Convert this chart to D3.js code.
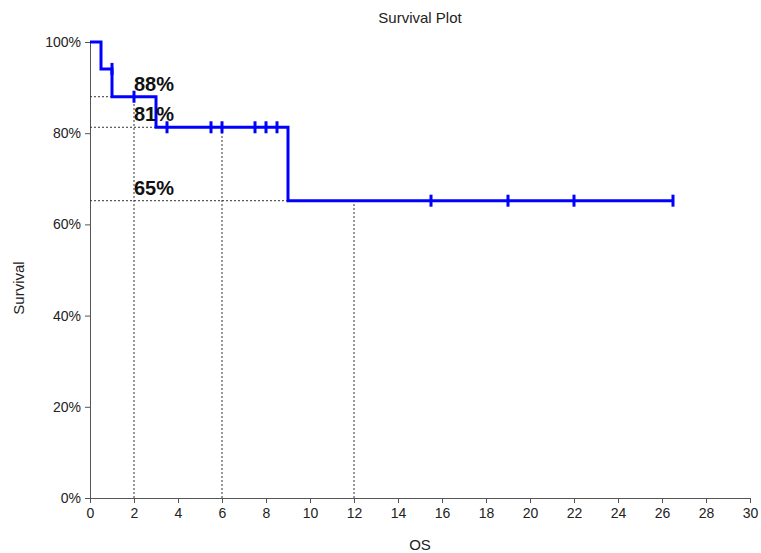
<!DOCTYPE html>
<html>
<head>
<meta charset="utf-8">
<script src="https://cdn.jsdelivr.net/npm/d3@7"></script>
<style>
  html, body { margin: 0; padding: 0; background: #fff; }
  svg { display: block; font-family: "Liberation Sans", Arial, sans-serif; }
</style>
</head>
<body>
<svg id="chart" width="761" height="553"></svg>
<script>
// ---- data ----
const stepTimes = [0, 0.5, 1.0, 3.0, 9.0];
const stepSurv  = [1.0, 0.941, 0.88, 0.813, 0.652];
const endTime = 26.5;
const censorTimes = [1.0, 2.0, 3.5, 5.5, 6.0, 7.5, 8.0, 8.5, 15.5, 19.0, 22.0, 26.5];
const refTimes  = [2, 6, 12];
const refSurv   = [0.88, 0.813, 0.652];
const refLabels = ["88%", "81%", "65%"];
const labelTimes = [2, 2, 2];
const xTicks = [0, 2, 4, 6, 8, 10, 12, 14, 16, 18, 20, 22, 24, 26, 28, 30];
const yTicks = [0, 0.2, 0.4, 0.6, 0.8, 1.0];

const svg = d3.select("#chart");
const x = d3.scaleLinear().domain([0, 30]).range([90, 750]);
const y = d3.scaleLinear().domain([0, 1]).range([498, 42]);

// title
svg.append("text").attr("x", 420).attr("y", 23).attr("text-anchor", "middle")
  .attr("font-size", 15).attr("fill", "#222").text("Survival Plot");

// axes
const xAxis = svg.append("g").attr("transform", `translate(0,${y(0)})`)
  .call(d3.axisBottom(x).tickValues(xTicks).tickSize(5).tickSizeOuter(0).tickPadding(5).tickFormat(d3.format("d")));
const yAxis = svg.append("g").attr("transform", `translate(${x(0)},0)`)
  .call(d3.axisLeft(y).tickValues(yTicks).tickSize(5).tickSizeOuter(0).tickPadding(4).tickFormat(d3.format(".0%")));
[xAxis, yAxis].forEach(g => {
  g.selectAll("path,line").attr("stroke", "#555");
  g.selectAll("text").attr("font-size", 14).attr("fill", "#222")
    .attr("font-family", "'Liberation Sans', Arial, sans-serif");
});

// axis titles
svg.append("text").attr("x", 420).attr("y", 550).attr("text-anchor", "middle")
  .attr("font-size", 15).attr("fill", "#222").text("OS");
svg.append("text").attr("transform", "translate(24,288) rotate(-90)").attr("text-anchor", "middle")
  .attr("font-size", 15).attr("fill", "#222").text("Survival");

// reference dotted lines
const ref = svg.append("g");
refTimes.forEach((t, i) => {
  ref.append("line").attr("x1", x(0)).attr("x2", x(t)).attr("y1", y(refSurv[i])).attr("y2", y(refSurv[i]))
    .attr("stroke", "#333").attr("stroke-width", 1).attr("stroke-dasharray", "2,2");
  ref.append("line").attr("x1", x(t)).attr("x2", x(t)).attr("y1", y(0)).attr("y2", y(refSurv[i]))
    .attr("stroke", "#333").attr("stroke-width", 1).attr("stroke-dasharray", "2,2");
});

// survival step curve
const pts = stepTimes.map((t, i) => [t, stepSurv[i]]);
pts.push([endTime, stepSurv[stepSurv.length - 1]]);
const line = d3.line().x(d => x(d[0])).y(d => y(d[1])).curve(d3.curveStepAfter);
svg.append("path").datum(pts).attr("d", line).attr("fill", "none")
  .attr("stroke", "#0000ff").attr("stroke-width", 3);

// censor marks
function survBefore(t) {
  let s = stepSurv[0];
  stepTimes.forEach((st, i) => { if (st < t) s = stepSurv[i]; });
  return s;
}
svg.append("g").selectAll("line").data(censorTimes).join("line")
  .attr("x1", d => x(d)).attr("x2", d => x(d))
  .attr("y1", d => y(survBefore(d)) - 6).attr("y2", d => y(survBefore(d)) + 6)
  .attr("stroke", "#0000ff").attr("stroke-width", 3);

// labels
svg.append("g").selectAll("text").data(refLabels).join("text")
  .attr("x", (d, i) => x(labelTimes[i]))
  .attr("y", (d, i) => y(refSurv[i]) - 6)
  .attr("font-size", 20).attr("font-weight", "bold").attr("fill", "#111")
  .text(d => d);
</script>
</body>
</html>
